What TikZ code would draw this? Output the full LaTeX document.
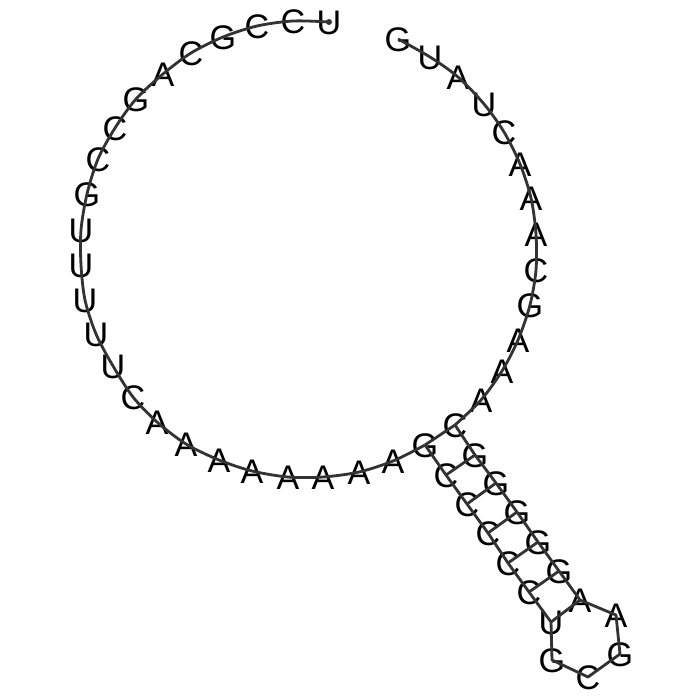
\documentclass[tikz,border=0pt]{standalone}
\usepackage{fontspec}
\setmainfont{Liberation Sans}
\definecolor{strand-grey}{HTML}{333333}
\tikzset{
    nucleotide/.style={inner sep=0pt, font=\fontsize{9.7}{10}\selectfont, text height=6.95pt, text depth=0pt},
    backbone/.style={strand-grey, line width=0.8pt, line join=round},
    basepair/.style={strand-grey, line width=0.8pt}
}

\begin{document}
\begin{tikzpicture}[x=0.01cm, y=-0.01cm]

    % Page
    \useasboundingbox (0, 0) rectangle (700, 700);

    % Nucleotides
    \foreach \letter/\x/\y [count=\i] in {
        U/329/22, C/293/21, C/257/26, G/223/37, C/191/53, A/163/74, G/136/99,
        C/115/128, C/98/159, G/87/194, U/81/230, U/81/265, U/85/300, U/96/334,
        U/113/366, C/133/397, A/157/422, A/186/444, A/219/460, A/252/471,
        A/288/477, A/323/477, A/359/472, A/393/461, G/425/445, C/446/475,
        C/467/504, C/488/533, C/508/563, C/529/592, U/551/622, G/552/660,
        C/588/677, G/620/654, A/616/615, A/580/600, G/559/571, G/538/542,
        G/517/512, G/496/483, G/475/455, C/455/425, A/481/400, A/502/371,
        A/518/340, G/530/305, C/536/270, A/536/234, A/531/198, A/520/164,
        C/504/132, U/484/104, A/458/77, U/430/57, G/398/39
    }
        \node[nucleotide] (n\i) at (\x, \y) {\letter};

    % Backbone
    \draw[backbone] plot[smooth, tension=0.5] coordinates {
        (n1.center) (n2.center) (n3.center) (n4.center) (n5.center) (n6.center)
        (n7.center) (n8.center) (n9.center) (n10.center) (n11.center) (n12.center)
        (n13.center) (n14.center) (n15.center) (n16.center) (n17.center) (n18.center)
        (n19.center) (n20.center) (n21.center) (n22.center) (n23.center) (n24.center)
        (n25.center)};
    \draw[backbone] (n25.center) foreach \i in {26,...,42} { -- (n\i.center) };
    \draw[backbone] plot[smooth, tension=0.5] coordinates {
        (n42.center) (n43.center) (n44.center) (n45.center) (n46.center) (n47.center)
        (n48.center) (n49.center) (n50.center) (n51.center) (n52.center) (n53.center)
        (n54.center) (n55.center)};
    \fill[strand-grey] (n1.center) circle (3);

    % Base pairs
    \draw[basepair] (n25.center) -- (n42.center);
    \draw[basepair] (n26.center) -- (n41.center);
    \draw[basepair] (n27.center) -- (n40.center);
    \draw[basepair] (n28.center) -- (n39.center);
    \draw[basepair] (n29.center) -- (n38.center);
    \draw[basepair] (n30.center) -- (n37.center);
    \draw[basepair] (n31.center) -- (n36.center);

\end{tikzpicture}
\end{document}
